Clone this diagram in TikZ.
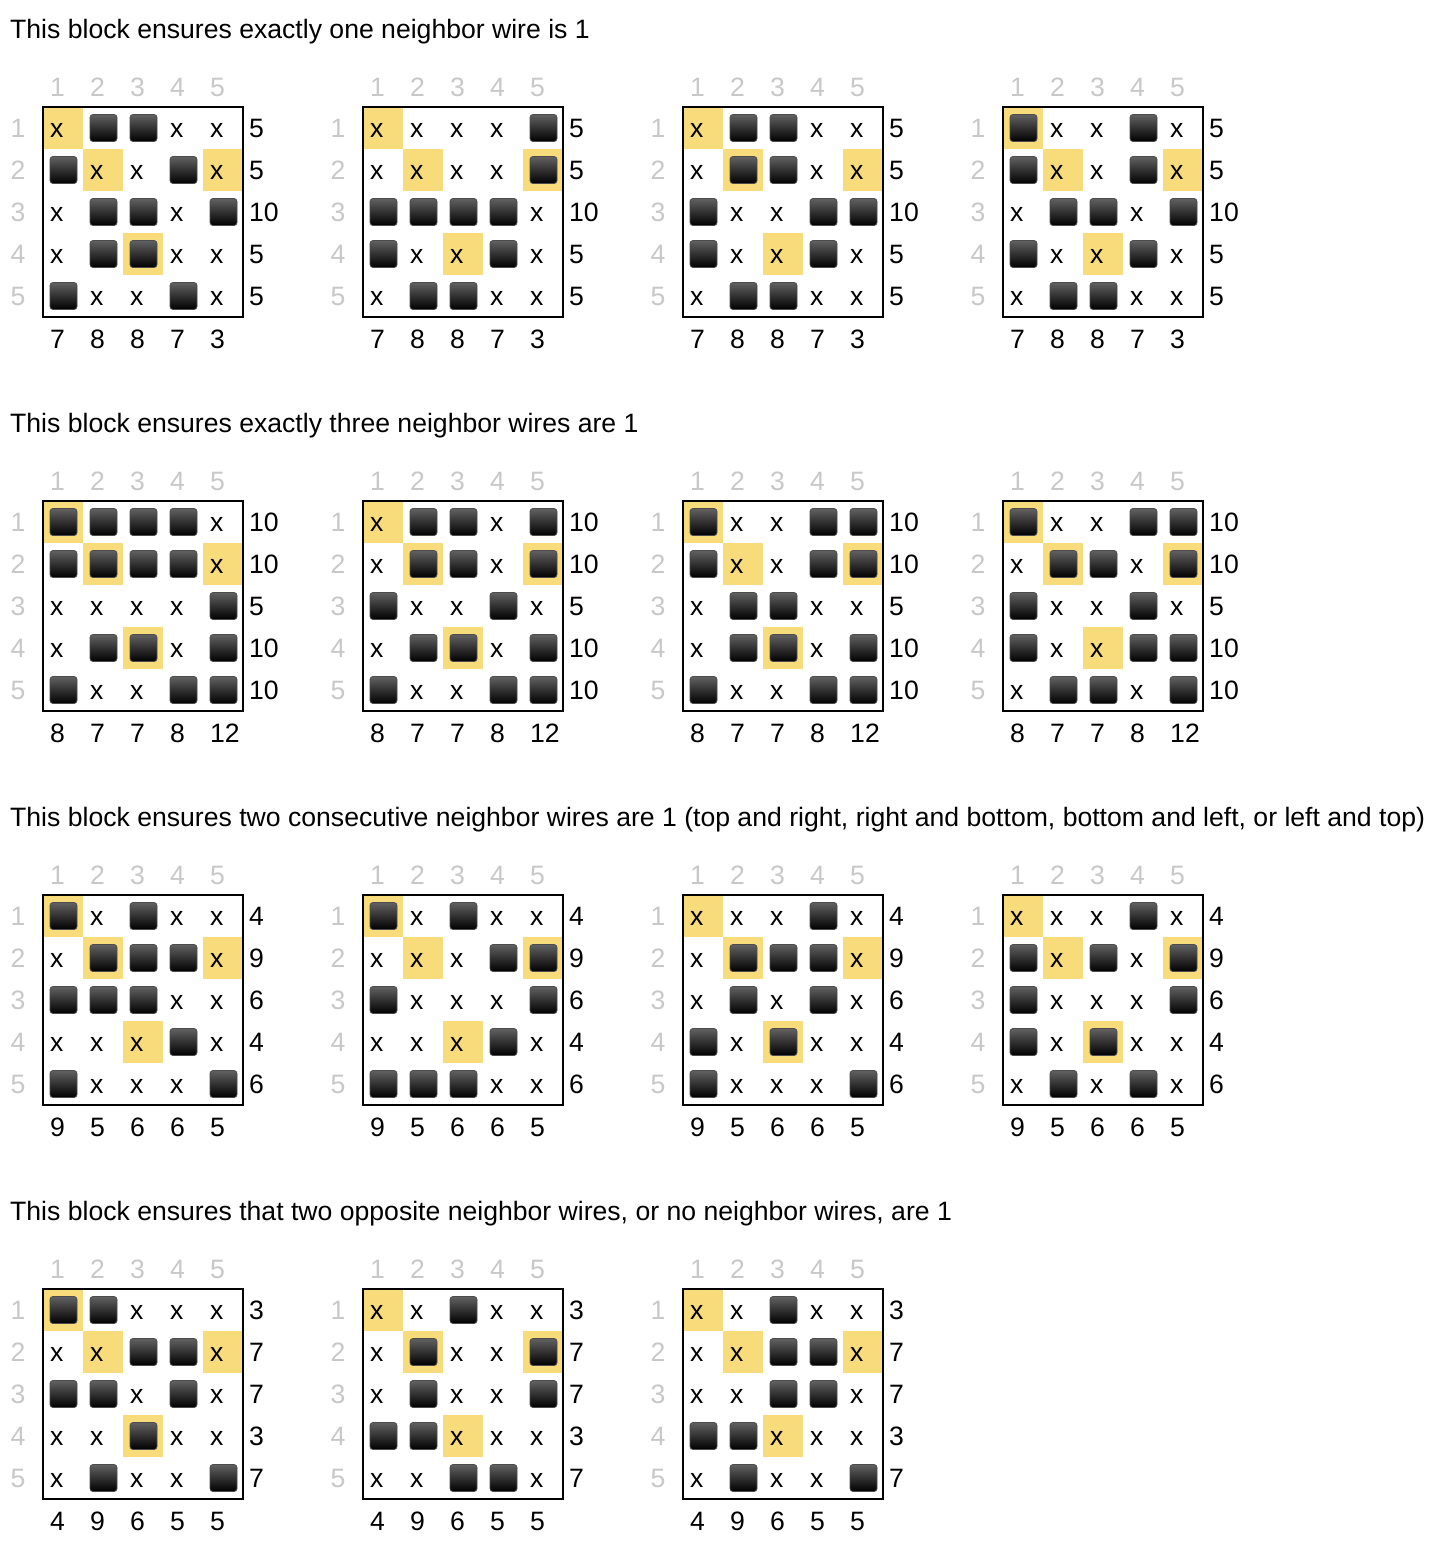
\documentclass[tikz,border=0pt]{standalone}
\usepackage{fontspec}
\setmainfont{Liberation Sans}
\definecolor{hiliteyellow}{HTML}{F8DB7A}
\definecolor{idxgray}{HTML}{C8C8C8}

% one 5x5 block: #1 id, #2 x, #3 y, #4 cells (1 = black square), #5 right sums, #6 bottom sums
\newcommand{\drawgrid}[6]{%
  \begin{scope}[shift={(#2,#3)}]
    \foreach \hr/\hc in {1/1,2/2,2/5,4/3}
      \fill[hilite] ({40*(\hc-1)},{42*(\hr-1)}) rectangle ++(40,42);
    \draw[gridbox] (0,0) rectangle (200,210);
    \foreach \n in {1,...,5} {
      \node[idxlbl, anchor=base west] (#1-top\n) at ({40*(\n-1)+7},-10.5) {\n};
      \node[idxlbl, anchor=base] (#1-left\n) at (-25,{42*(\n-1)+30.5}) {\n};
    }
    \foreach \rowdata [count=\r] in {#4} {
      \foreach \v [count=\c] in \rowdata {
        \ifnum\v=1
          \node[blkcell] (#1-\r-\c) at ({40*(\c-1)+20.5},{42*(\r-1)+21}) {};
        \else
          \node[xcell, anchor=base west] (#1-\r-\c) at ({40*(\c-1)+7},{42*(\r-1)+30.5}) {x};
        \fi
      }
    }
    \foreach \t [count=\r] in {#5}
      \node[numlbl, anchor=base west] (#1-right\r) at (206,{42*(\r-1)+30.5}) {\t};
    \foreach \t [count=\c] in {#6}
      \node[numlbl, anchor=base west] (#1-bottom\c) at ({40*(\c-1)+7},241.5) {\t};
  \end{scope}}

\begin{document}
\begin{tikzpicture}[x=1pt, y=-1pt,
    every node/.style={font=\fontsize{26.6}{30}\selectfont, inner sep=0pt},
    hilite/.style={fill=hiliteyellow},
    gridbox/.style={draw=black, line width=2pt},
    idxlbl/.style={text=idxgray},
    numlbl/.style={text=black},
    xcell/.style={text=black},
    blkcell/.style={draw=black!70, line width=0.8pt, rounded corners=3pt,
      top color=black!62, bottom color=black, minimum size=27pt},
    heading/.style={anchor=base west, text=black}]
  \fill[white] (0,0) rectangle (1444,1550);
  \useasboundingbox (0,0) rectangle (1444,1550);

  % exactly one
  \node[heading] (h1) at (10,38) {This block ensures exactly one neighbor wire is 1};
  \drawgrid{a1}{43}{107}{{0,1,1,0,0},{1,0,0,1,0},{0,1,1,0,1},{0,1,1,0,0},{1,0,0,1,0}}{5,5,10,5,5}{7,8,8,7,3}
  \drawgrid{a2}{363}{107}{{0,0,0,0,1},{0,0,0,0,1},{1,1,1,1,0},{1,0,0,1,0},{0,1,1,0,0}}{5,5,10,5,5}{7,8,8,7,3}
  \drawgrid{a3}{683}{107}{{0,1,1,0,0},{0,1,1,0,0},{1,0,0,1,1},{1,0,0,1,0},{0,1,1,0,0}}{5,5,10,5,5}{7,8,8,7,3}
  \drawgrid{a4}{1003}{107}{{1,0,0,1,0},{1,0,0,1,0},{0,1,1,0,1},{1,0,0,1,0},{0,1,1,0,0}}{5,5,10,5,5}{7,8,8,7,3}

  % exactly three
  \node[heading] (h2) at (10,432) {This block ensures exactly three neighbor wires are 1};
  \drawgrid{b1}{43}{501}{{1,1,1,1,0},{1,1,1,1,0},{0,0,0,0,1},{0,1,1,0,1},{1,0,0,1,1}}{10,10,5,10,10}{8,7,7,8,12}
  \drawgrid{b2}{363}{501}{{0,1,1,0,1},{0,1,1,0,1},{1,0,0,1,0},{0,1,1,0,1},{1,0,0,1,1}}{10,10,5,10,10}{8,7,7,8,12}
  \drawgrid{b3}{683}{501}{{1,0,0,1,1},{1,0,0,1,1},{0,1,1,0,0},{0,1,1,0,1},{1,0,0,1,1}}{10,10,5,10,10}{8,7,7,8,12}
  \drawgrid{b4}{1003}{501}{{1,0,0,1,1},{0,1,1,0,1},{1,0,0,1,0},{1,0,0,1,1},{0,1,1,0,1}}{10,10,5,10,10}{8,7,7,8,12}

  % two consecutive
  \node[heading] (h3) at (10,826) {This block ensures two consecutive neighbor wires are 1 (top and right, right and bottom, bottom and left, or left and top)};
  \drawgrid{c1}{43}{895}{{1,0,1,0,0},{0,1,1,1,0},{1,1,1,0,0},{0,0,0,1,0},{1,0,0,0,1}}{4,9,6,4,6}{9,5,6,6,5}
  \drawgrid{c2}{363}{895}{{1,0,1,0,0},{0,0,0,1,1},{1,0,0,0,1},{0,0,0,1,0},{1,1,1,0,0}}{4,9,6,4,6}{9,5,6,6,5}
  \drawgrid{c3}{683}{895}{{0,0,0,1,0},{0,1,1,1,0},{0,1,0,1,0},{1,0,1,0,0},{1,0,0,0,1}}{4,9,6,4,6}{9,5,6,6,5}
  \drawgrid{c4}{1003}{895}{{0,0,0,1,0},{1,0,1,0,1},{1,0,0,0,1},{1,0,1,0,0},{0,1,0,1,0}}{4,9,6,4,6}{9,5,6,6,5}

  % opposite or none
  \node[heading] (h4) at (10,1220) {This block ensures that two opposite neighbor wires, or no neighbor wires, are 1};
  \drawgrid{d1}{43}{1289}{{1,1,0,0,0},{0,0,1,1,0},{1,1,0,1,0},{0,0,1,0,0},{0,1,0,0,1}}{3,7,7,3,7}{4,9,6,5,5}
  \drawgrid{d2}{363}{1289}{{0,0,1,0,0},{0,1,0,0,1},{0,1,0,0,1},{1,1,0,0,0},{0,0,1,1,0}}{3,7,7,3,7}{4,9,6,5,5}
  \drawgrid{d3}{683}{1289}{{0,0,1,0,0},{0,0,1,1,0},{0,0,1,1,0},{1,1,0,0,0},{0,1,0,0,1}}{3,7,7,3,7}{4,9,6,5,5}
\end{tikzpicture}
\end{document}
